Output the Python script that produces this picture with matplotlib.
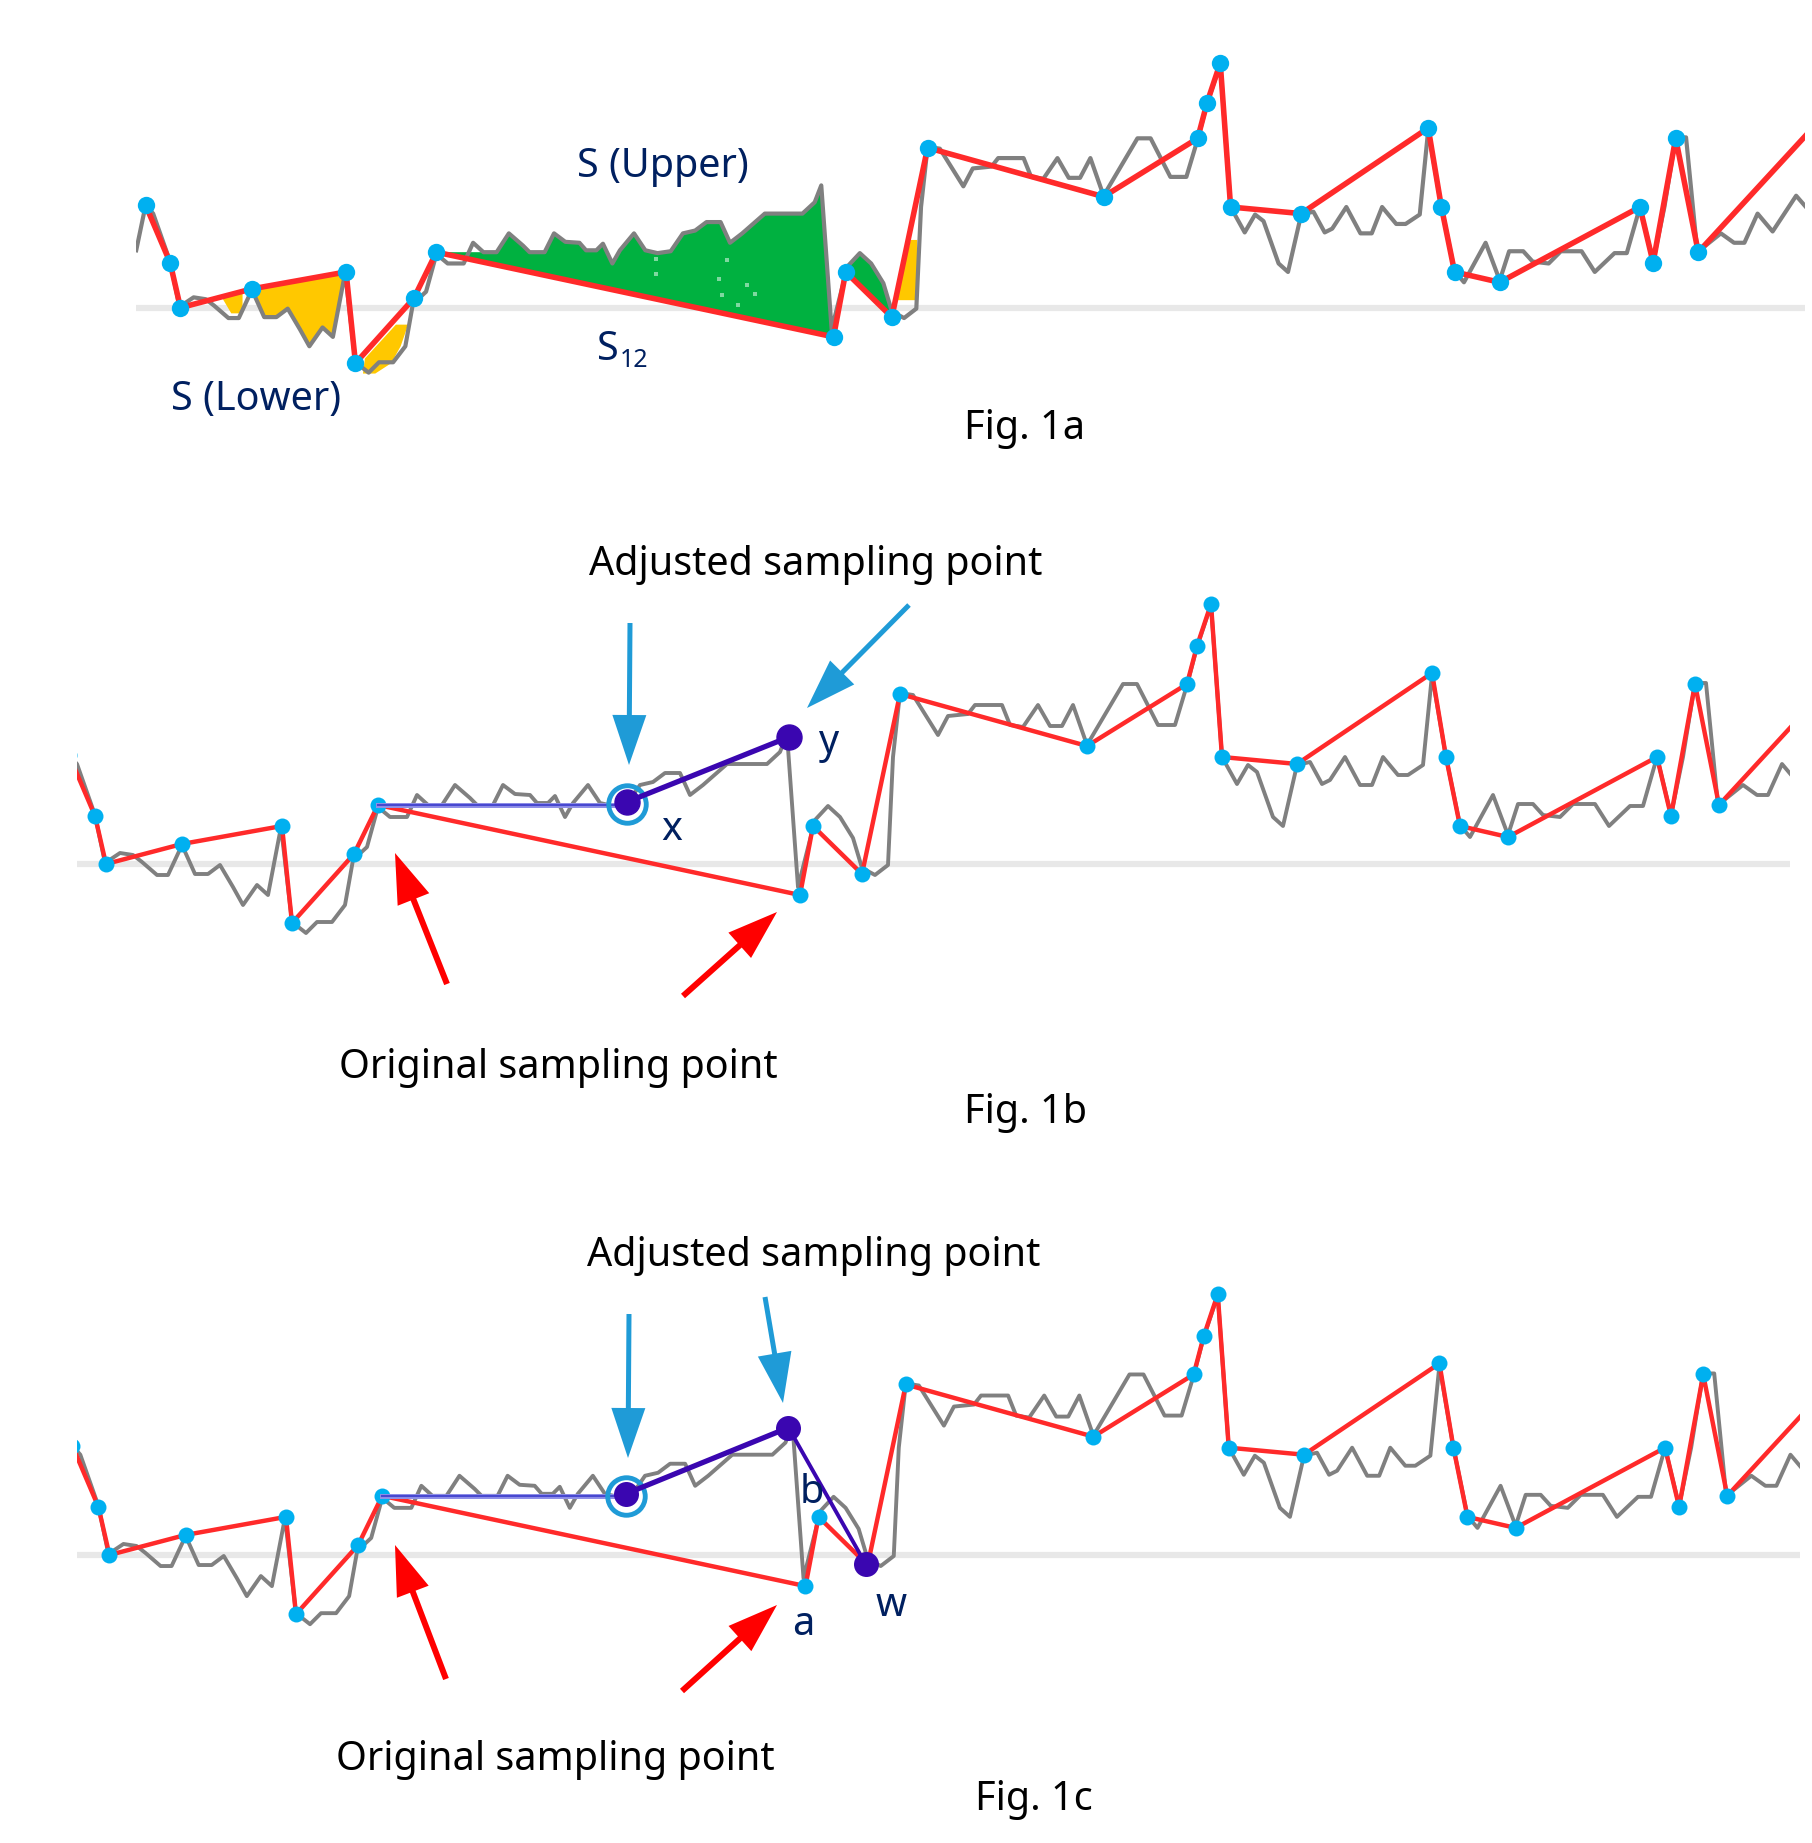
import numpy as np
import matplotlib.pyplot as plt

plt.rcParams['font.family'] = ['Noto Sans', 'DejaVu Sans']

W, H = 1812, 1843

# measured signal: x along the trace, height above the grey base line
signal_x = [59, 69, 77, 95, 105, 120, 133, 142, 157, 168, 182, 195, 208, 220, 233, 243, 257, 268, 281, 292,
            306, 317, 332, 345, 353, 367, 378, 390, 407, 417, 428, 442, 455, 470, 477, 493, 503, 515, 530, 537,
            548, 555, 565, 573, 588, 600, 613, 627, 640, 653, 665, 680, 690, 703, 727, 767, 780, 787, 798, 815,
            828, 840, 853, 862, 875, 888, 893, 900, 913, 938, 948, 968, 975, 1002, 1010, 1023, 1038, 1050, 1062, 1073,
            1087, 1123, 1137, 1158, 1175, 1187, 1197, 1211, 1222, 1237, 1248, 1257, 1273, 1283, 1297, 1310, 1322, 1330, 1345, 1360,
            1372, 1383, 1398, 1408, 1423, 1432, 1446, 1460, 1470, 1493, 1508, 1518, 1533, 1543, 1560, 1573, 1595, 1609, 1630, 1643,
            1657, 1671, 1683, 1695, 1706, 1718, 1743, 1757, 1768, 1782, 1798, 1823, 1836]
signal_y = [61, 109, 100, 49, 1, 11, 9, 2, -11, -11, 19, -10, -10, -1, -23, -41, -21, -31, 37, -58,
            -69, -58, -58, -41, 4, 17, 57, 47, 47, 69, 59, 59, 79, 66, 59, 59, 79, 70, 69, 61,
            61, 68, 47, 61, 79, 61, 58, 60, 79, 82, 91, 91, 69, 79, 100, 100, 112, 130, -23, 44,
            58, 47, 26, -4, -11, -1, 107, 171, 169, 129, 148, 150, 159, 159, 139, 137, 159, 138, 138, 159,
            119, 180, 180, 139, 139, 179, 217, 259, 107, 80, 99, 92, 47, 38, 99, 102, 80, 84, 107, 79,
            79, 107, 89, 89, 99, 189, 107, 39, 27, 69, 29, 60, 60, 49, 47, 60, 60, 38, 58, 58,
            107, 49, 107, 181, 181, 59, 79, 69, 69, 100, 81, 119, 104]

# sampling points
sample_x = [69, 95, 106, 182, 282, 292, 354, 378, 800, 813, 862, 900, 1087, 1187, 1197, 1211, 1222, 1297, 1432, 1446,
            1460, 1508, 1657, 1671, 1695, 1719]
sample_y = [109, 48, 0, 20, 38, -59, 10, 59, -31, 38, -10, 170, 118, 180, 218, 260, 107, 100, 191, 107,
            38, 27, 107, 48, 180, 59]
line_end = (1836, 186)

# adjusted points
adj_b_x, adj_b_y = [627, 789], [62, 127]
adj_c_x, adj_c_y = [621, 783, 860], [61, 127, -9]
flat_b_x, flat_b_y = [378, 627], [59, 59]
flat_c_x, flat_c_y = [378, 621], [59, 59]

# extra shapes of Fig. 1a
yellow_small_x, yellow_small_y = [150, 172, 172, 160], [11, 17, -6, -6]
yellow_low_x = [300, 313, 330, 340, 348, 335, 302]
yellow_low_y = [-70, -70, -59, -41, -18, -18, -54]
yellow_edge_x, yellow_edge_y = [866, 882, 889, 889], [8, 72, 72, 8]
speck_x = [611, 611, 687, 678, 708, 682, 717, 698]
speck_y = [52, 36, 51, 31, 24, 14, 15, 3]

# arrows in picture pixels: tail x, tail y, tip x, tip y
blue_arrows = [(630, 623, 629, 765), (909, 605, 807, 708), (629, 1314, 628, 1458), (765, 1297, 783, 1403)]
red_arrows = [(447, 984, 395, 853), (683, 996, 777, 912), (446, 1679, 395, 1545), (682, 1691, 777, 1605)]

navy = '#002060'
labels = [('S (Upper)', 577, 177, navy), ('S (Lower)', 171, 410, navy), ('S', 597, 360, navy),
          ('Fig. 1a', 964, 439, 'black'),
          ('Adjusted sampling point', 589, 575, 'black'), ('Original sampling point', 339, 1078, 'black'),
          ('Fig. 1b', 964, 1123, 'black'), ('x', 661, 840, navy), ('y', 818, 753, navy),
          ('Adjusted sampling point', 587, 1266, 'black'), ('Original sampling point', 336, 1770, 'black'),
          ('Fig. 1c', 975, 1810, 'black'), ('b', 800, 1503, navy), ('a', 792, 1635, navy), ('w', 876, 1616, navy)]

signal_x = np.array(signal_x)
signal_y = np.array(signal_y)
sample_x = np.array(sample_x)
sample_y = np.array(sample_y)
red_x = np.r_[sample_x, line_end[0]]
red_y = np.r_[sample_y, line_end[1]]


def add_panel(scale, offset, base, left, right, top, bottom):
    ax = fig.add_axes([left / W, 1 - bottom / H, (right - left) / W, (bottom - top) / H])
    ax.set_xlim((left - offset) / scale, (right - offset) / scale)
    ax.set_ylim((base - bottom) / scale, (base - top) / scale)
    ax.axis('off')
    ax.axhline(0, color='#e8e8e8', lw=4.5, zorder=1)
    return ax


def draw_trace(ax, grey_lw, red_lw, dot):
    ax.plot(signal_x, signal_y, color='#808080', lw=grey_lw, zorder=3)
    ax.plot(red_x, red_y, color='#ff2a2a', lw=red_lw, zorder=4)
    ax.plot(sample_x, sample_y, 'o', color='#00b0f0', ms=dot, mew=0, zorder=5)


def fill_between_trace(ax, x0, x1, sx0, sx1, color):
    # polygon: signal points from x0 to x1, back along the sampled line
    keep = (signal_x >= x0) & (signal_x <= x1)
    keep_s = (sample_x == sx0) | (sample_x == sx1)
    ax.fill(np.r_[signal_x[keep], sample_x[keep_s][::-1]],
            np.r_[signal_y[keep], sample_y[keep_s][::-1]], color=color, lw=0, zorder=2)


fig = plt.figure(figsize=(W / 100, H / 100), dpi=100)

# Fig. 1a
ax_a = add_panel(0.941, 80.7, 307.7, 136, 1805, 30, 400)
fill_between_trace(ax_a, 190, 281, 182, 282, '#ffc800')
fill_between_trace(ax_a, 442, 787, 378, 800, '#00b140')
fill_between_trace(ax_a, 815, 853, 813, 862, '#00b140')
ax_a.fill(yellow_small_x, yellow_small_y, color='#ffc800', lw=0, zorder=2)
ax_a.fill(yellow_low_x, yellow_low_y, color='#ffc800', lw=0, zorder=2)
ax_a.fill(yellow_edge_x, yellow_edge_y, color='#ffc800', lw=0, zorder=2)
ax_a.plot(speck_x, speck_y, 's', color='#7fd8a0', ms=2.5, mew=0, zorder=2)
draw_trace(ax_a, 3.0, 4.0, 12.5)

# Fig. 1b
ax_b = add_panel(1.0, 0.0, 864, 77, 1790, 580, 960)
draw_trace(ax_b, 2.8, 3.2, 11.5)
ax_b.plot(flat_b_x, flat_b_y, color='#9090e8', lw=3.6, zorder=6)
ax_b.plot(flat_b_x, flat_b_y, color='#4848d0', lw=1.5, zorder=6)
ax_b.plot(adj_b_x[0], adj_b_y[0] - 2, 'o', mfc='none', mec='#1f9bd7', mew=3.5, ms=27, zorder=7)
ax_b.plot(adj_b_x, adj_b_y, '-o', color='#3a06b0', lw=3.8, ms=18, zorder=8)

# Fig. 1c
ax_c = add_panel(1.003, 3.1, 1555, 77, 1800, 1270, 1650)
draw_trace(ax_c, 2.8, 3.2, 11.5)
ax_c.plot(flat_c_x, flat_c_y, color='#9090e8', lw=3.6, zorder=6)
ax_c.plot(flat_c_x, flat_c_y, color='#4848d0', lw=1.5, zorder=6)
ax_c.plot(adj_c_x[0], adj_c_y[0] - 2, 'o', mfc='none', mec='#1f9bd7', mew=3.5, ms=27, zorder=7)
ax_c.plot(adj_c_x[:2], adj_c_y[:2], color='#3a06b0', lw=3.8, zorder=8)
ax_c.plot(adj_c_x[1:], adj_c_y[1:], color='#3a06b0', lw=2.8, zorder=8)
ax_c.plot(adj_c_x, adj_c_y, 'o', color='#3a06b0', ms=18, mew=0, zorder=9)

# arrows and labels on top, in picture pixels
top = fig.add_axes([0, 0, 1, 1])
top.set_xlim(0, W)
top.set_ylim(H, 0)
top.axis('off')
top.patch.set_alpha(0)

for x0, y0, x1, y1 in blue_arrows:
    top.arrow(x0, y0, x1 - x0, y1 - y0, width=5, head_width=34, head_length=50,
              length_includes_head=True, color='#1f9bd7', lw=0)
for x0, y0, x1, y1 in red_arrows:
    top.arrow(x0, y0, x1 - x0, y1 - y0, width=6, head_width=34, head_length=50,
              length_includes_head=True, color='#ff0000', lw=0)

for txt, x, y, col in labels:
    top.text(x, y, txt, color=col, fontsize=28.5, ha='left', va='baseline')
top.text(620, 367, '12', color=navy, fontsize=18, ha='left', va='baseline')

fig.savefig('out.png', dpi=100)
